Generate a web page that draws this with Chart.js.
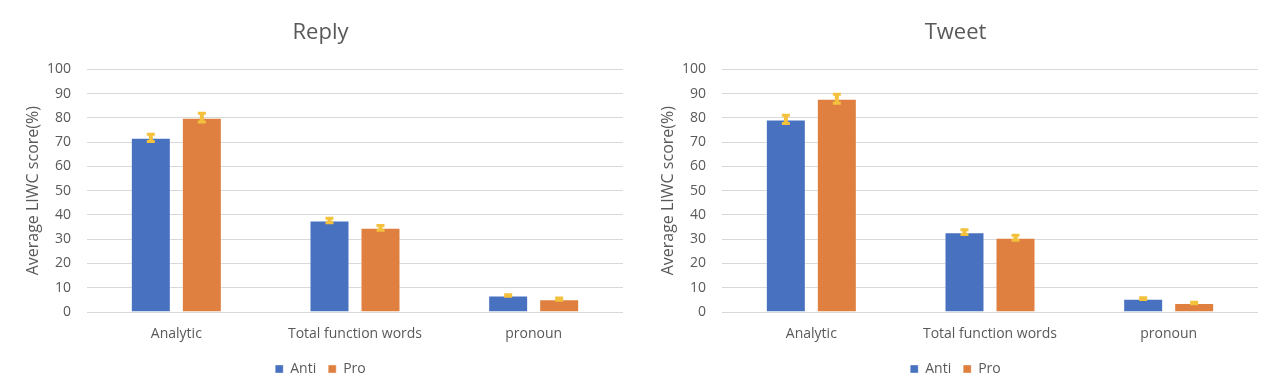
<!DOCTYPE html>
<html>
<head>
<meta charset="utf-8">
<script src="https://cdn.jsdelivr.net/npm/chart.js@4/dist/chart.umd.min.js"></script>
<style>
  body { margin: 0; background: #ffffff; }
  .wrap { display: flex; width: 1270px; height: 388px; }
  canvas { display: block; }
</style>
</head>
<body>
<div class="wrap">
  <canvas id="replyChart" width="635" height="388"></canvas>
  <canvas id="tweetChart" width="635" height="388"></canvas>
</div>
<script>
// categories and series
const categories = ['Analytic', 'Total function words', 'pronoun'];
const seriesNames = ['Anti', 'Pro'];

const replyAnti = [71.8, 37.7, 6.8];
const replyPro = [80.1, 34.7, 5.3];
const replyAntiErr = [1.5, 0.9, 0.35];
const replyProErr = [1.8, 1.0, 0.5];

const tweetAnti = [79.4, 32.9, 5.5];
const tweetPro = [87.9, 30.6, 3.7];
const tweetAntiErr = [1.7, 1.0, 0.35];
const tweetProErr = [1.9, 1.0, 0.35];

const yMin = 0;
const yMax = 100;
const yStep = 10;

const textColor = '#595959';
const gridColor = '#d9d9d9';
const fontFamily = "'Open Sans', 'Noto Sans', sans-serif";

// draws the gold error bars on top of each bar
const errorBarPlugin = {
    id: 'errorBars',
    afterDatasetsDraw(chart) {
        const ctx = chart.ctx;
        const yScale = chart.scales.y;
        chart.data.datasets.forEach((ds, i) => {
            const meta = chart.getDatasetMeta(i);
            meta.data.forEach((bar, j) => {
                const v = ds.data[j];
                const e = ds.errors[j];
                const yHi = yScale.getPixelForValue(v + e);
                const yLo = yScale.getPixelForValue(v - e);
                ctx.save();
                ctx.strokeStyle = '#f4c13c';
                ctx.lineCap = 'butt';
                // stem
                ctx.lineWidth = 4;
                ctx.beginPath();
                ctx.moveTo(bar.x, yHi);
                ctx.lineTo(bar.x, yLo);
                ctx.stroke();
                // caps
                ctx.lineWidth = 3;
                ctx.beginPath();
                ctx.moveTo(bar.x - 4, yHi);
                ctx.lineTo(bar.x + 4, yHi);
                ctx.moveTo(bar.x - 4, yLo);
                ctx.lineTo(bar.x + 4, yLo);
                ctx.stroke();
                ctx.restore();
            });
        });
    }
};

function makeChart(canvasId, titleText, anti, pro, antiErr, proErr) {
    const ctx = document.getElementById(canvasId).getContext('2d');
    return new Chart(ctx, {
        type: 'bar',
        data: {
            labels: categories,
            datasets: [{
                label: seriesNames[0],
                data: anti,
                errors: antiErr,
                backgroundColor: '#4872c0',
                borderColor: 'rgba(255, 255, 255, 0.35)',
                borderWidth: 1,
                categoryPercentage: 0.571,
                barPercentage: 0.784
            }, {
                label: seriesNames[1],
                data: pro,
                errors: proErr,
                backgroundColor: '#df8040',
                borderColor: 'rgba(255, 255, 255, 0.35)',
                borderWidth: 1,
                categoryPercentage: 0.571,
                barPercentage: 0.784
            }]
        },
        options: {
            responsive: false,
            animation: false,
            layout: {
                padding: { left: 18, right: 12, top: 0, bottom: 2 }
            },
            scales: {
                x: {
                    afterFit: (scale) => { scale.height = 38; },
                    grid: { display: false, drawTicks: false, tickLength: 0 },
                    border: { display: false },
                    ticks: {
                        color: textColor,
                        padding: 14,
                        maxRotation: 0,
                        font: { family: fontFamily, size: 14 }
                    }
                },
                y: {
                    min: yMin,
                    max: yMax,
                    afterFit: (scale) => { scale.width = 69; },
                    grid: {
                        color: gridColor,
                        lineWidth: 1,
                        drawTicks: false
                    },
                    border: { display: false },
                    ticks: {
                        stepSize: yStep,
                        color: textColor,
                        padding: 16,
                        font: { family: fontFamily, size: 14 }
                    },
                    title: {
                        display: true,
                        text: 'Average LIWC score(%)',
                        color: textColor,
                        padding: { top: 6, bottom: 0 },
                        font: { family: fontFamily, size: 16 }
                    }
                }
            },
            plugins: {
                title: {
                    display: true,
                    text: titleText,
                    color: textColor,
                    padding: { top: 20, bottom: 23 },
                    font: { family: fontFamily, size: 22, weight: 'normal' }
                },
                legend: {
                    position: 'bottom',
                    labels: {
                        color: textColor,
                        boxWidth: 8,
                        boxHeight: 8,
                        padding: 12,
                        font: { family: fontFamily, size: 14 }
                    }
                },
                tooltip: { enabled: false }
            }
        },
        plugins: [errorBarPlugin]
    });
}

makeChart('replyChart', 'Reply', replyAnti, replyPro, replyAntiErr, replyProErr);
makeChart('tweetChart', 'Tweet', tweetAnti, tweetPro, tweetAntiErr, tweetProErr);
</script>
</body>
</html>
